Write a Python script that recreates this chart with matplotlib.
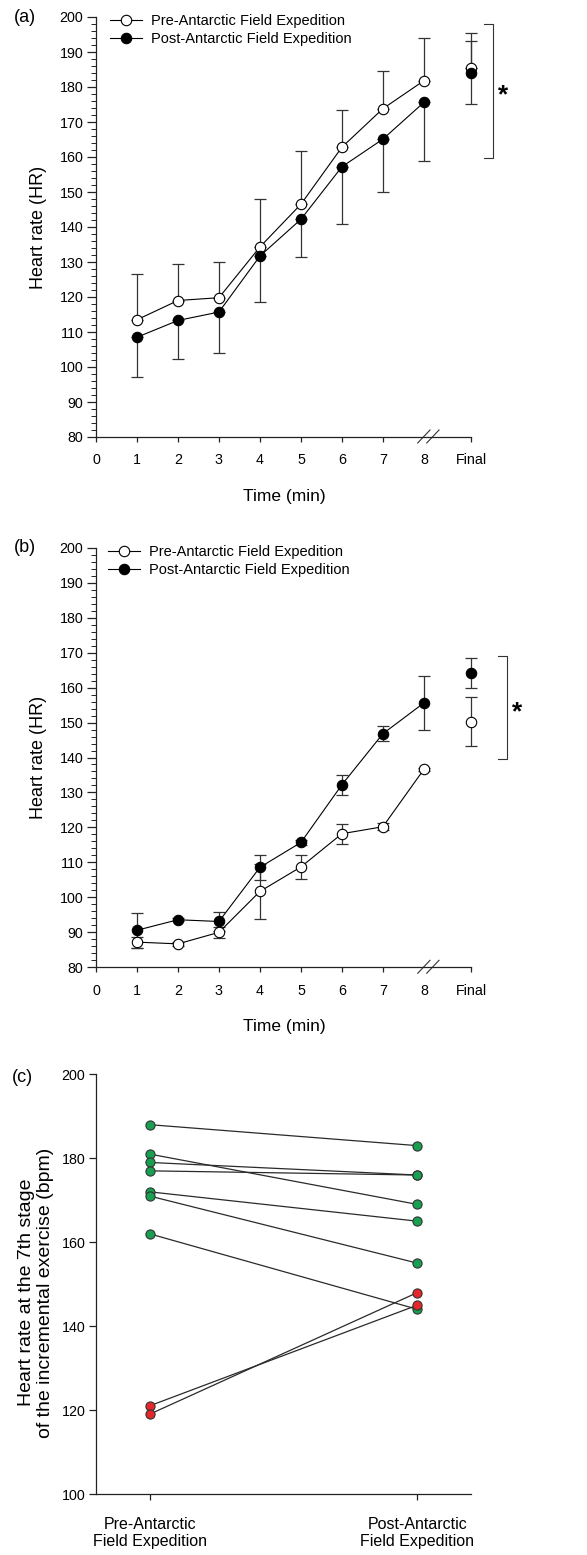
import matplotlib
matplotlib.use('Agg')
import matplotlib.pyplot as plt
from matplotlib.ticker import MultipleLocator

plt.rcParams['font.family'] = ['Liberation Sans', 'DejaVu Sans']
plt.rcParams['axes.edgecolor'] = '#222222'
plt.rcParams['axes.linewidth'] = 0.9

# ---- data -------------------------------------------------------------
time_labels = ['0', '1', '2', '3', '4', '5', '6', '7', '8', 'Final']
stages = [1, 2, 3, 4, 5, 6, 7, 8]
FINAL_X = 9.15

# panel (a)
pre_a = [113.5, 119.0, 119.8, 134.3, 146.5, 162.8, 173.8, 181.8, 185.3]
pre_a_hi = [13.0, 10.4, 10.2, 13.7, 15.2, 10.5, 10.8, 12.3, 10.2]
pre_a_lo = [0, 0, 0, 0, 0, 0, 0, 0, 0]
post_a = [108.5, 113.3, 115.7, 131.7, 142.2, 157.2, 165.1, 175.6, 184.1]
post_a_hi = [0, 0, 0, 0, 0, 0, 0, 0, 9.1]
post_a_lo = [11.4, 11.1, 11.6, 13.1, 10.9, 16.2, 15.2, 16.8, 9.0]

# panel (b)
pre_b = [87.2, 86.7, 90.0, 101.7, 108.7, 118.2, 120.2, 136.6, 150.2]
pre_b_err = [1.6, 0.5, 1.5, 7.8, 3.4, 2.8, 1.0, 0.5, 7.0]
post_b = [90.6, 93.6, 93.1, 108.6, 115.7, 132.2, 146.8, 155.6, 164.2]
post_b_err = [5.0, 0.5, 2.8, 3.6, 0.8, 2.9, 2.1, 7.8, 4.3]

# panel (c): heart rate at the 7th stage per subject
subj_pre = [188, 181, 179, 177, 172, 171, 162, 121, 119]
subj_post = [183, 169, 176, 176, 165, 155, 144, 145, 148]
subj_group = ['g', 'g', 'g', 'g', 'g', 'g', 'g', 'r', 'r']
group_colors = {'g': '#17a04f', 'r': '#e5262a'}
cond_labels = ['Pre-Antarctic\nField Expedition', 'Post-Antarctic\nField Expedition']

legend_labels = ['Pre-Antarctic Field Expedition', 'Post-Antarctic Field Expedition']

# ---- figure -----------------------------------------------------------
W, H = 587, 1555
fig = plt.figure(figsize=(W / 100, H / 100), dpi=100)


def px_axes(left, top, right, bottom):
    return fig.add_axes([left / W, 1 - bottom / H, (right - left) / W, (bottom - top) / H])


ax_a = px_axes(96, 17, 471, 437)
ax_b = px_axes(96, 547.7, 471, 967.3)
ax_c = px_axes(96, 1074.3, 471, 1494)

ERR_COL = '#333333'


def time_panel(ax, pre, pre_lo, pre_hi, post, post_lo, post_hi, bracket, star_y, legend_x):
    xs = stages + [FINAL_X]
    ax.errorbar(xs, pre, yerr=[pre_lo, pre_hi], fmt='none', ecolor=ERR_COL,
                elinewidth=0.9, capsize=4.2, capthick=0.9, zorder=2)
    ax.errorbar(xs, post, yerr=[post_lo, post_hi], fmt='none', ecolor=ERR_COL,
                elinewidth=0.9, capsize=4.2, capthick=0.9, zorder=2)
    h1, = ax.plot(stages, pre[:8], '-o', color='black', lw=0.8, ms=7.5,
                  mfc='white', mec='black', mew=0.8, zorder=3, label=legend_labels[0])
    h2, = ax.plot(stages, post[:8], '-o', color='black', lw=0.8, ms=7.5,
                  mfc='black', mec='black', mew=0.8, zorder=4, label=legend_labels[1])
    ax.plot([FINAL_X], [pre[8]], 'o', ms=7.5, mfc='white', mec='black', mew=0.8, zorder=3)
    ax.plot([FINAL_X], [post[8]], 'o', ms=7.5, mfc='black', mec='black', mew=0.8, zorder=4)
    for ch in ax.get_children():
        if hasattr(ch, 'set_clip_on'):
            ch.set_clip_on(False)

    ax.set_xlim(0, FINAL_X)
    ax.set_ylim(80, 200)
    ax.set_xticks(list(range(9)) + [FINAL_X])
    ax.set_xticklabels(time_labels)
    ax.xaxis.get_major_ticks()[8].tick1line.set_visible(False)
    ax.yaxis.set_major_locator(MultipleLocator(10))
    ax.yaxis.set_minor_locator(MultipleLocator(2))
    ax.tick_params(axis='y', which='major', length=6.5, width=0.9, pad=2.5,
                   labelsize=10.3, color='#222222')
    ax.tick_params(axis='y', which='minor', length=3.4, width=0.7, color='#222222')
    ax.tick_params(axis='x', which='major', length=3.8, width=0.9, pad=8,
                   labelsize=10.3, color='#222222')
    for s in ('top', 'right'):
        ax.spines[s].set_visible(False)

    # axis break on the x axis
    for bx in (7.85, 8.07):
        ax.plot([bx, bx + 0.3], [78.3, 82.0], color=ERR_COL, lw=0.8, clip_on=False)

    # significance bracket
    x_in, x_out, y_top, y_bot = bracket
    ax.plot([x_in, x_out, x_out, x_in], [y_top, y_top, y_bot, y_bot],
            color=ERR_COL, lw=0.8, clip_on=False)
    ax.text(x_out + 0.25, star_y, '*', fontsize=19, fontweight='bold',
            ha='center', va='center', clip_on=False)

    ax.set_ylabel('Heart rate (HR)', fontsize=13, va='center')
    ax.yaxis.set_label_coords(-0.152, 0.5)
    ax.set_xlabel('Time (min)', fontsize=12.5, va='center')
    ax.xaxis.set_label_coords(0.503, -0.141)

    ax.legend(handles=[h1, h2], loc='upper left', bbox_to_anchor=(legend_x, 1.006),
              frameon=False, fontsize=10.5, handlelength=2.2, handletextpad=0.6,
              labelspacing=0.25, borderpad=0, borderaxespad=0)


time_panel(ax_a, pre_a, pre_a_lo, pre_a_hi, post_a, post_a_lo, post_a_hi,
           (9.46, 9.68, 198, 159.6), 177.5, 0.037)
time_panel(ax_b, pre_b, pre_b_err, pre_b_err, post_b, post_b_err, post_b_err,
           (9.80, 10.02, 168.9, 139.5), 153.0, 0.032)

# ---- panel (c) --------------------------------------------------------
order = [i for i in range(len(subj_pre)) if subj_group[i] == 'g'] + \
        [i for i in range(len(subj_pre)) if subj_group[i] == 'r']
for i in order:
    ax_c.plot([1, 2], [subj_pre[i], subj_post[i]], '-', color='#2a2a2a', lw=0.9, zorder=2)
for i in order:
    ax_c.plot([1, 2], [subj_pre[i], subj_post[i]], 'o', ls='none', ms=6.6,
              mfc=group_colors[subj_group[i]], mec='#333333', mew=0.8, zorder=3)

ax_c.set_xlim(0.8, 2.2)
ax_c.set_ylim(100, 200)
ax_c.set_yticks(range(100, 201, 20))
ax_c.set_xticks([1, 2])
ax_c.set_xticklabels(cond_labels, fontsize=11.5)
ax_c.tick_params(axis='y', length=5.2, width=0.9, pad=2.5, labelsize=10.3, color='#222222')
ax_c.tick_params(axis='x', length=4.3, width=0.9, pad=12, color='#222222')
for s in ('top', 'right'):
    ax_c.spines[s].set_visible(False)
ax_c.set_ylabel('Heart rate at the 7th stage\nof the incremental exercise (bpm)',
                fontsize=14, va='center', linespacing=1.15)
ax_c.yaxis.set_label_coords(-0.16, 0.48)

# panel letters
fig.text(25 / W, 1 - 17 / H, '(a)', fontsize=13, ha='center', va='center')
fig.text(25 / W, 1 - 548 / H, '(b)', fontsize=13, ha='center', va='center')
fig.text(22 / W, 1 - 1077 / H, '(c)', fontsize=13, ha='center', va='center')

fig.savefig('out.png', dpi=100)
